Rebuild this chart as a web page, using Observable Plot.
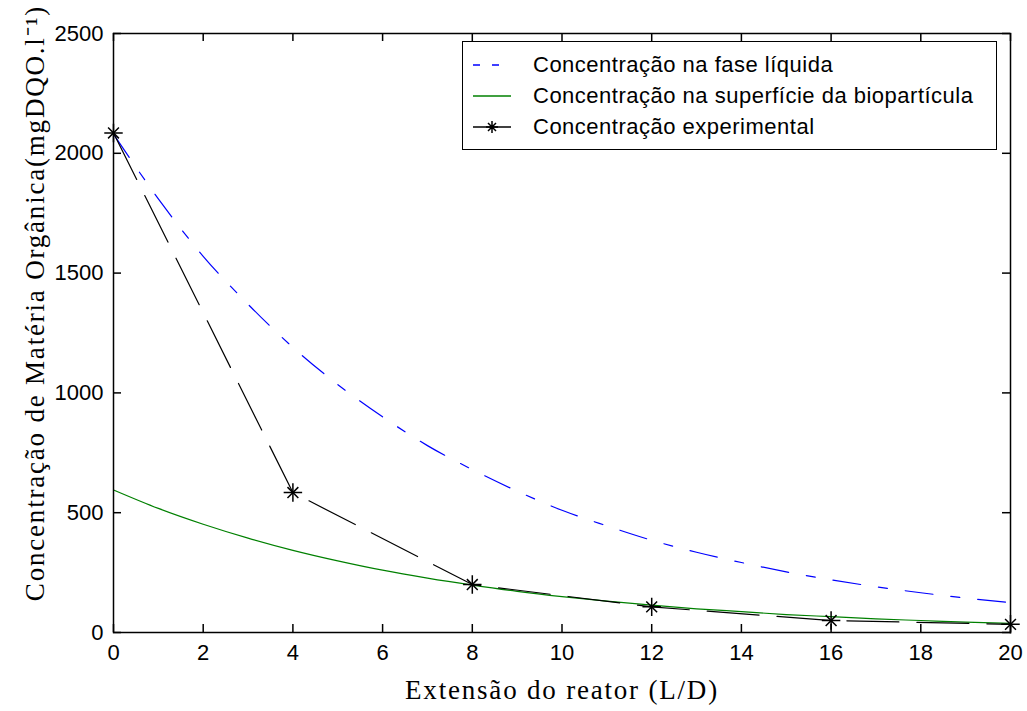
<!DOCTYPE html>
<html>
<head>
<meta charset="utf-8">
<script src="https://cdn.jsdelivr.net/npm/d3@7"></script>
<script src="https://cdn.jsdelivr.net/npm/@observablehq/plot@0.6"></script>
<style>
  html, body { margin: 0; padding: 0; background: #fff; }
  #wrap { position: relative; width: 1027px; height: 711px; }
  #wrap svg { overflow: visible; }
  #legend { position: absolute; left: 462px; top: 41px; width: 535px; height: 109px;
    border: 1.5px solid #000; background: #fff; box-sizing: border-box;
    font-family: "Liberation Sans", Arial, sans-serif; font-size: 22px; letter-spacing: 0.5px; color: #000; }
  .row { position: absolute; left: 0; height: 30px; display: flex; align-items: center; white-space: nowrap; }
  .row svg { margin-left: 8px; margin-right: 20px; }
</style>
</head>
<body>
<div id="wrap"></div>
<script>
// Reactor length (L/D)
const xCurve = [0,1,2,3,4,5,6,7,8,9,10,11,12,13,14,15,16,17,18,19,20];
// Concentration in the liquid phase (mgDQO/l)
const liquid = [2080,1810,1570,1370,1190,1035,900,780,680,590,510,445,385,335,292,253,220,191,166,144,125];
// Concentration at the bioparticle surface (mgDQO/l)
const surface = [595,518,452,394,343,299,260,227,198,172,150,131,114,99,87,75,66,57,50,43,38];
// Experimental concentration
const xExp = [0,4,8,12,16,20];
const experimental = [2085,584,200,107,50,34];

const xTicks = [0,2,4,6,8,10,12,14,16,18,20];
const yTicks = [0,500,1000,1500,2000,2500];

const seriesNames = ["Concentração na fase líquida","Concentração na superfície da biopartícula","Concentração experimental"];
const xLabel = "Extensão do reator (L/D)";
const yLabel = "Concentração de Matéria Orgânica(mgDQO.l⁻¹)";

const liquidData = xCurve.map((x,i)=>({x, y: liquid[i]}));
const surfaceData = xCurve.map((x,i)=>({x, y: surface[i]}));
const expData = xExp.map((x,i)=>({x, y: experimental[i]}));

const W = 1027, H = 711, mL = 113, mR = 17, mT = 33, mB = 79;
const frameW = W - mL - mR, frameH = H - mT - mB, tk = 8;

const tickFont = {fontSize: 22, fontFamily: "Liberation Sans, Arial, sans-serif"};
const serif = "Liberation Serif, Times New Roman, serif";

const chart = Plot.plot({
  width: W, height: H,
  marginLeft: mL, marginRight: mR, marginTop: mT, marginBottom: mB,
  style: {background: "#fff", color: "#000", fontFamily: "Liberation Sans, Arial, sans-serif", fontSize: "22px"},
  x: {domain: [0,20]},
  y: {domain: [0,2500]},
  marks: [
    Plot.line(surfaceData, {x:"x", y:"y", stroke:"#008000", strokeWidth:1.2, curve:"monotone-x"}),
    Plot.line(liquidData, {x:"x", y:"y", stroke:"#0000ff", strokeWidth:1.2, strokeDasharray:"28,18,9,18", curve:"monotone-x"}),
    Plot.line(expData, {x:"x", y:"y", stroke:"#000", strokeWidth:1.2, strokeDasharray:"52,18"}),
    Plot.dot(expData, {x:"x", y:"y", symbol:"plus", r:6, stroke:"#000", strokeWidth:1.5}),
    Plot.dot(expData, {x:"x", y:"y", symbol:"times", r:5, stroke:"#000", strokeWidth:1.5}),
    Plot.frame({stroke:"#000", strokeWidth:1.5}),
    Plot.tickX(xTicks, {x: d => d, insetTop: frameH - tk, stroke:"#000", strokeWidth:1.5}),
    Plot.tickX(xTicks, {x: d => d, insetBottom: frameH - tk, stroke:"#000", strokeWidth:1.5}),
    Plot.tickY(yTicks, {y: d => d, insetRight: frameW - tk, stroke:"#000", strokeWidth:1.5}),
    Plot.tickY(yTicks, {y: d => d, insetLeft: frameW - tk, stroke:"#000", strokeWidth:1.5}),
    Plot.axisX(xTicks, {anchor:"bottom", tickSize:0, tickPadding:12, label:null, ...tickFont}),
    Plot.axisY(yTicks, {anchor:"left", tickSize:0, tickPadding:10, label:null, tickFormat: d => String(d), ...tickFont}),
    Plot.text([xLabel], {frameAnchor:"bottom", textAnchor:"middle", dy:66, fontSize:27, fontFamily: serif}),
    Plot.text([yLabel], {frameAnchor:"left", textAnchor:"middle", lineAnchor:"middle", dx:-78, dy:-30, rotate:-90, fontSize:27, fontFamily: serif})
  ]
});
d3.select(chart).selectAll('g[aria-label="text"] text').style("letter-spacing", "1.8px");
const wrap = document.getElementById("wrap");
wrap.appendChild(chart);

// Legend
const legend = document.createElement("div");
legend.id = "legend";
const styles = [
  {stroke:"#0000ff", dash:"7,12", marker:false},
  {stroke:"#008000", dash:null, marker:false},
  {stroke:"#000", dash:null, marker:true}
];
const tops = [8, 39, 70];
seriesNames.forEach((name, i) => {
  const row = document.createElement("div");
  row.className = "row";
  row.style.top = tops[i] + "px";
  const s = styles[i];
  let svg = `<svg width="42" height="20"><line x1="2" y1="10" x2="40" y2="10" stroke="${s.stroke}" stroke-width="1.5" ${s.dash ? `stroke-dasharray="${s.dash}"` : ""}/>`;
  if (s.marker) svg += `<path d="M21,4V16M15,10H27M17,6L25,14M25,6L17,14" stroke="#000" stroke-width="1.5"/>`;
  svg += `</svg>`;
  row.innerHTML = svg + `<span>${name}</span>`;
  legend.appendChild(row);
});
wrap.appendChild(legend);
</script>
</body>
</html>
